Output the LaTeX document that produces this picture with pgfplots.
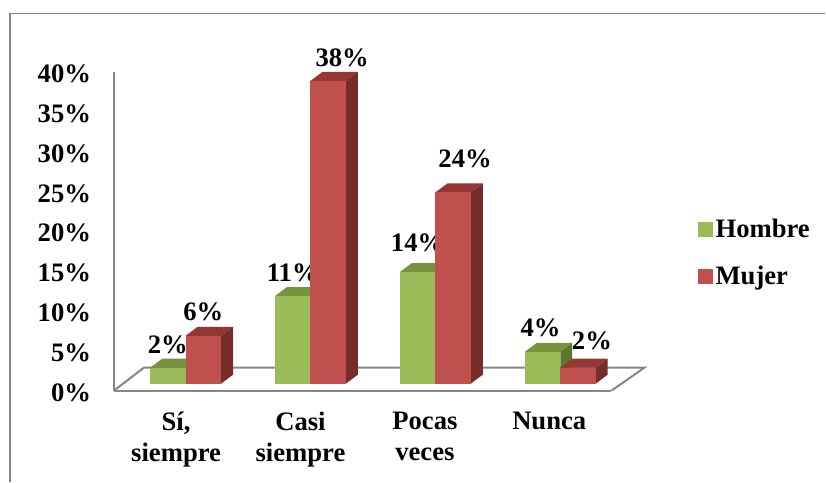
\documentclass[border=0pt]{standalone}
\usepackage{fontspec}
\setmainfont{Liberation Serif}
\usepackage{pgfplots}
\pgfplotsset{compat=1.18}

\definecolor{frameGray}{HTML}{868686}
\definecolor{hombreFront}{HTML}{9BBB59}
\definecolor{hombreTop}{HTML}{77933C}
\definecolor{hombreSide}{HTML}{5F7530}
\definecolor{mujerFront}{HTML}{C0504D}
\definecolor{mujerTop}{HTML}{943634}
\definecolor{mujerSide}{HTML}{772C2A}

\newcommand{\chartfont}{\fontsize{20}{23.25}\selectfont\bfseries}

% One extruded bar: left edge, value, colour stem, label offsets (in px at .75pt)
\newcommand{\solidbar}[5]{%
  \addplot[forget plot,barpos,fill=#3Top,draw=none] coordinates
    {(#1,#2) ({#1+0.285},#2) ({#1+0.3814},{#2+1.129}) ({#1+0.0964},{#2+1.129})} -- cycle;
  \addplot[forget plot,barpos,fill=#3Side,draw=none] coordinates
    {({#1+0.285},0) ({#1+0.285},#2) ({#1+0.3814},{#2+1.129}) ({#1+0.3814},1.129)} -- cycle;
  \addplot[forget plot,barpos,fill=#3Front,draw=none] coordinates
    {(#1,0) (#1,#2) ({#1+0.285},#2) ({#1+0.285},0)} -- cycle;
  \node[font=\chartfont,inner sep=0pt,anchor=center,
        xshift=7.125pt+#4*0.75pt,yshift=5.25pt+#5*0.75pt]
    at (axis cs:{#1+0.1425},#2) {#2\%};
}

\begin{document}
\begin{tikzpicture}[x=1pt,y=1pt]
  % page extent and the chart-area border (left and top edges only)
  \path (0,0) rectangle (619.5,361.5);
  \draw[frameGray,line width=1.1pt] (7.5,0) -- (7.5,351.5) -- (619.5,351.5);

  \begin{axis}[
    at={(85.5pt,68.25pt)},anchor=south west,
    scale only axis,width=373.5pt,height=239.25pt,
    xmin=-0.5,xmax=3.5,ymin=0,ymax=40,
    clip=false,
    axis y line*=left,axis x line*=bottom,
    axis line style={draw=frameGray,line width=1.5pt,-},
    major tick style={draw=none},
    ytick={0,5,...,40},
    xtick={0,1,2,3},
    xticklabels={{Sí,\\siempre},{Casi\\siempre},{Pocas\\veces},{Nunca}},
    /pgf/number format/assume math mode=true,
    yticklabel={\pgfmathprintnumber{\tick}\%},
    yticklabel style={font=\chartfont,anchor=east,xshift=-17pt,yshift=-1.5pt,inner sep=0pt},
    xticklabel style={font=\chartfont,align=center,anchor=north,yshift=-16pt,inner sep=0pt},
    barpos/.style={xshift=7.125pt,yshift=5.25pt},
    legend style={
      at={(699pt*0.75-85.5pt,482pt*0.75-68.25pt-217pt*0.75)},
      anchor=north west,draw=none,fill=none,font=\chartfont,
      inner sep=0pt,outer sep=0pt,row sep=15.5pt,
      /tikz/every even column/.style={column sep=8.5pt},
      cells={anchor=west}},
    legend cell align=left,
  ]
    % floor of the plot volume
    \addplot[forget plot,frameGray,line width=1.5pt] coordinates
      {(-0.5,0) (-0.259,2.884) (3.765,2.884) (3.5,0)};

    % Hombre
    \solidbar{-0.285}{2}{hombre}{0}{23}
    \solidbar{0.719}{11}{hombre}{0}{23}
    \solidbar{1.723}{14}{hombre}{0}{29}
    \solidbar{2.727}{4}{hombre}{-2}{24}
    % Mujer
    \solidbar{0}{6}{mujer}{0}{24}
    \solidbar{1.004}{38}{mujer}{14}{23}
    \solidbar{2.008}{24}{mujer}{12}{33.6}
    \solidbar{3.012}{2}{mujer}{14}{27}

    \addlegendimage{legend image code/.code={\fill[hombreFront] (0pt,-5pt) rectangle (10.5pt,5.5pt);}}
    \addlegendentry{Hombre}
    \addlegendimage{legend image code/.code={\fill[mujerFront] (0pt,-5pt) rectangle (10.5pt,5.5pt);}}
    \addlegendentry{Mujer}
  \end{axis}
\end{tikzpicture}
\end{document}
